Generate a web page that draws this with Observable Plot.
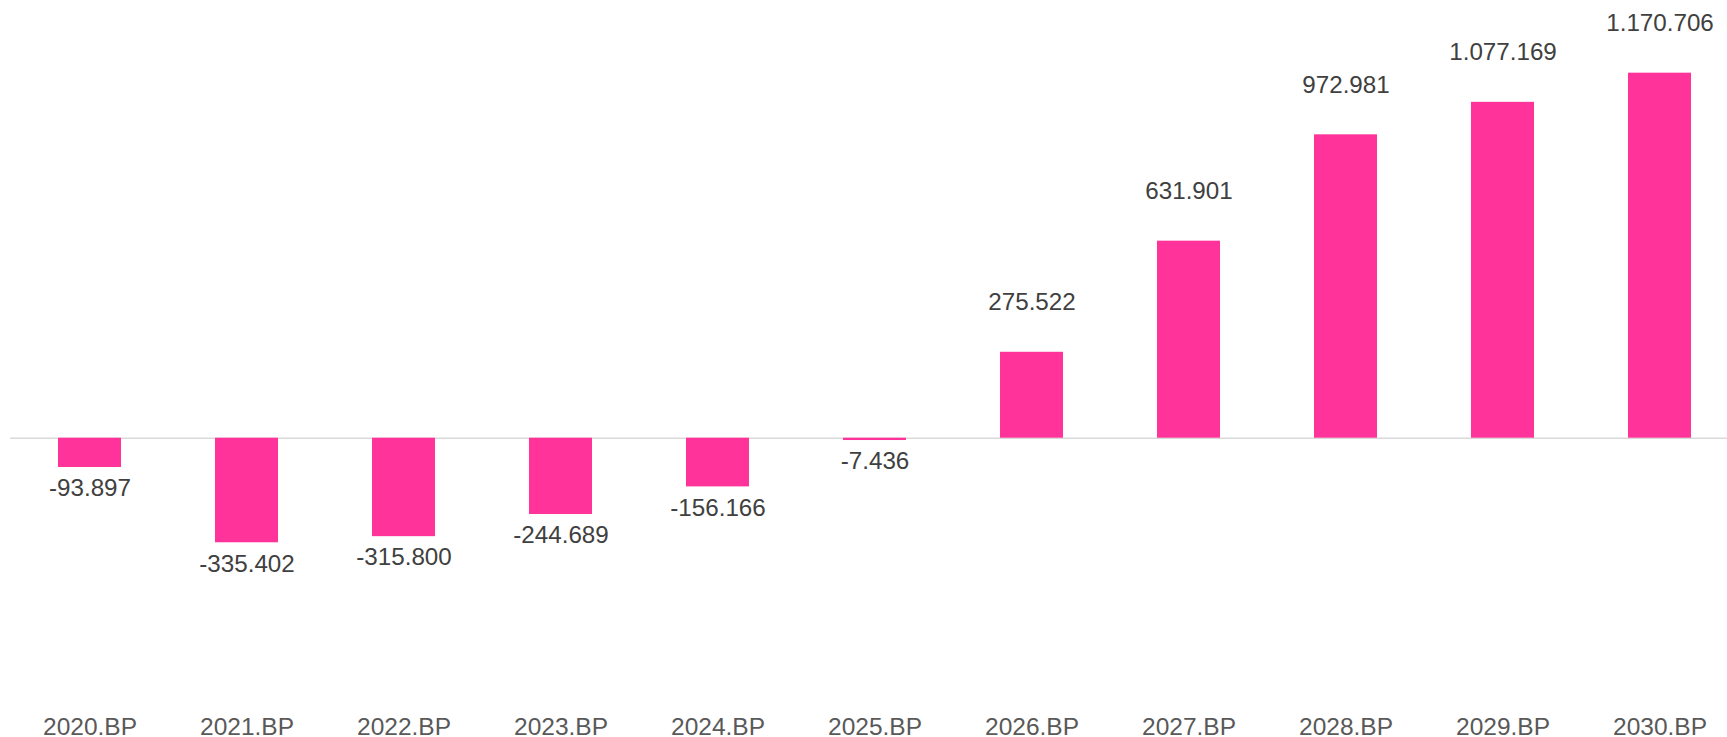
<!DOCTYPE html>
<html>
<head>
<meta charset="utf-8">
<script src="https://cdn.jsdelivr.net/npm/d3@7"></script>
<script src="https://cdn.jsdelivr.net/npm/@observablehq/plot@0.6"></script>
<style>
  html, body { margin: 0; padding: 0; background: #fff; }
  #chart svg { display: block; }
</style>
</head>
<body>
<div id="chart"></div>
<script>
const categories = ["2020.BP","2021.BP","2022.BP","2023.BP","2024.BP","2025.BP","2026.BP","2027.BP","2028.BP","2029.BP","2030.BP"];
const values = [-93897, -335402, -315800, -244689, -156166, -7436, 275522, 631901, 972981, 1077169, 1170706];
const labels = ["-93.897","-335.402","-315.800","-244.689","-156.166","-7.436","275.522","631.901","972.981","1.077.169","1.170.706"];

const data = categories.map((c, i) => ({cat: c, value: values[i], label: labels[i]}));
const pos = data.filter(d => d.value >= 0);
const neg = data.filter(d => d.value < 0);

const font = "'Liberation Sans', Arial, sans-serif";

const chart = Plot.plot({
  width: 1727,
  height: 737,
  marginTop: 0,
  marginBottom: 20,
  marginLeft: 10,
  marginRight: 0,
  style: {fontFamily: font, fontSize: "24px", background: "#fff", overflow: "visible"},
  x: {domain: categories, paddingInner: 0.6, paddingOuter: 0.26, align: 0.572, label: null},
  y: {domain: [-895800, 1403800], axis: null},
  marks: [
    Plot.ruleY([0], {stroke: "#d9d9d9", strokeWidth: 1.5}),
    Plot.barY(data, {x: "cat", y: "value", fill: "#ff3399"}),
    Plot.text(pos, {x: "cat", y: "value", text: "label", dy: -50, lineAnchor: "middle", fill: "#404040", fontSize: 24.2}),
    Plot.text(neg, {x: "cat", y: "value", text: "label", dy: 21, lineAnchor: "middle", fill: "#404040", fontSize: 24.2}),
    Plot.axisX({tickSize: 0, tickPadding: 0, fill: "#595959", fontSize: 24.5, label: null})
  ]
});
document.getElementById("chart").appendChild(chart);
</script>
</body>
</html>
